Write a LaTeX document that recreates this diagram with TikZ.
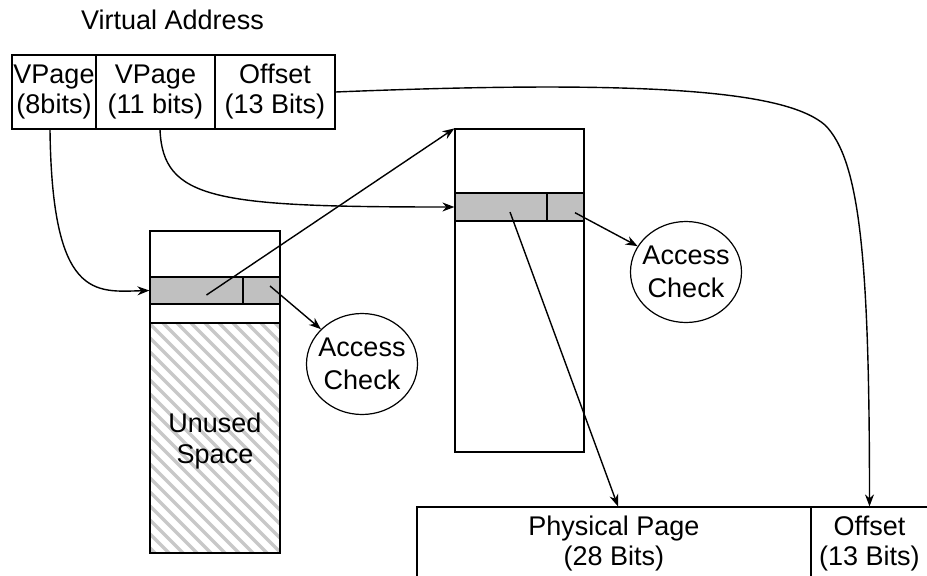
\documentclass[tikz,border=0pt]{standalone}
\usepackage{fontspec}
\setmainfont{Liberation Sans}
\usetikzlibrary{shapes.geometric,arrows.meta}
\definecolor{rowgray}{RGB}{192,192,192}
\definecolor{hatchgray}{RGB}{200,200,200}
\begin{document}
\begin{tikzpicture}[x=1pt,y=-1pt,
  every node/.style={font=\fontsize{27}{30}\selectfont},
  cell/.style={draw,line width=1.2pt,rectangle,inner sep=0pt,align=center},
  gcell/.style={cell,fill=rowgray},
  chk/.style={draw,line width=1.2pt,ellipse,inner sep=0pt,minimum width=111pt,minimum height=101pt},
  chktext/.style={align=center,font=\fontsize{27}{33}\selectfont},
  arr/.style={line width=1.4pt,-{Stealth[length=12pt,width=9pt]}},
]
\useasboundingbox (0,0) rectangle (927,576);

% title
\node (va) at (172.5,20) {Virtual Address};

% virtual address fields
\node[cell,minimum width=84pt,minimum height=74pt] (vp1) at (54,92) {VPage\\(8bits)};
\node[cell,minimum width=119pt,minimum height=74pt] (vp2) at (155.5,92) {VPage\\(11 bits)};
\node[cell,minimum width=120pt,minimum height=74pt] (off) at (275,92) {Offset\\(13 Bits)};

% hatching of unused space
\begin{scope}
  \clip (150,323) rectangle (280,553);
  \foreach \c in {-440,-426,...,-20}
    \draw[hatchgray,line width=3.5pt] (150,150-\c) -- (280,280-\c);
\end{scope}

% first-level table
\node[cell,minimum width=130pt,minimum height=322pt] (lt) at (215,392) {};
\node[gcell,minimum width=93pt,minimum height=27pt] (ltgA) at (196.5,290.5) {};
\node[gcell,minimum width=37pt,minimum height=27pt] (ltgB) at (261.5,290.5) {};
\node[cell,minimum width=130pt,minimum height=230pt] (us) at (215,438) {};
\node[align=center,font=\fontsize{27}{31}\selectfont] (ustxt) at (215,441) {Unused\\Space};

% second-level table
\node[cell,minimum width=129pt,minimum height=323pt] (rt) at (519.5,290.5) {};
\node[gcell,minimum width=92pt,minimum height=28pt] (rtgA) at (501,207) {};
\node[gcell,minimum width=37pt,minimum height=28pt] (rtgB) at (565.5,207) {};

% access checks
\node[chk,label={[chktext]center:Access\\Check}] (ac1) at (362,364) {};
\node[chk,label={[chktext]center:Access\\Check}] (ac2) at (686,272) {};

% physical address
\node[cell,minimum width=394pt,minimum height=74pt] (pp) at (614,544) {Physical Page\\(28 Bits)};
\node[cell,minimum width=117pt,minimum height=74pt] (po) at (869.5,544) {Offset\\(13 Bits)};

% connectors
\draw[arr] ([xshift=-4pt]vp1.south) .. controls (52,300) and (95,292) .. (ltgA.west);
\draw[arr] ([xshift=4.5pt]vp2.south) .. controls (163,200) and (215,207) .. (rtgA.west);
\draw[arr] ([xshift=10pt,yshift=-4.5pt]ltgA.center) -- (rt.north west);
\draw[arr] ([xshift=8.5pt,yshift=4.5pt]ltgB.center) -- (ac1);
\draw[arr] ([xshift=9.5pt,yshift=-5.7pt]rtgB.center) -- (ac2);
\draw[arr] ([xshift=9pt,yshift=-5pt]rtgA.center) -- ([xshift=4pt]pp.north);
\draw[arr] (off.east) .. controls (680,78) and (790,95) .. (825,125)
  .. controls (860,160) and (869.5,260) .. (po.north);
\end{tikzpicture}
\end{document}
